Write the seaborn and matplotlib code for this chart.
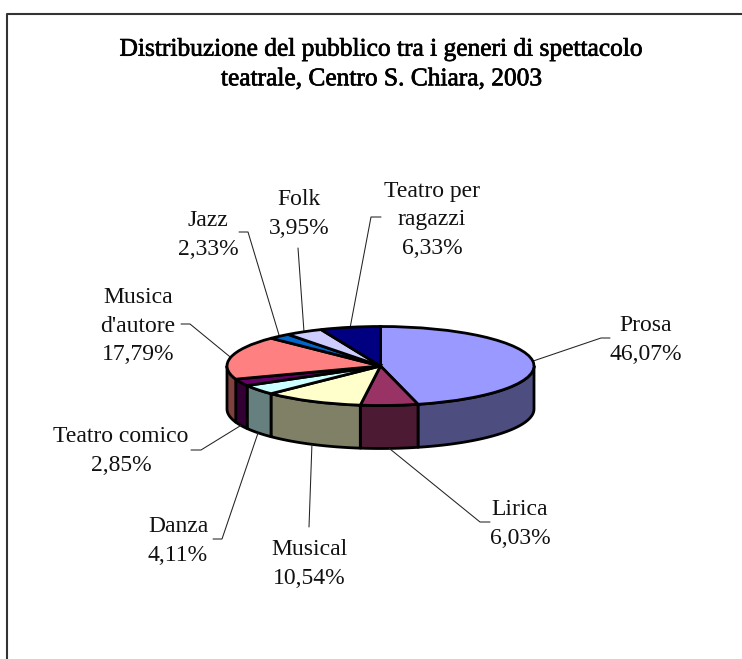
import numpy as np
import matplotlib
matplotlib.use('Agg')
import matplotlib.pyplot as plt
import matplotlib.patheffects as pe
import seaborn as sns

generi = ['Prosa', 'Lirica', 'Musical', 'Danza', 'Teatro comico',
          "Musica\nd'autore", 'Jazz', 'Folk', 'Teatro per\nragazzi']
quote = [46.07, 6.03, 10.54, 4.11, 2.85, 17.79, 2.33, 3.95, 6.33]
colori = ['#9999FF', '#993366', '#FFFFCC', '#CCFFFF', '#660066',
          '#FF8080', '#0066CC', '#CCCCFF', '#000080']
titolo = 'Distribuzione del pubblico tra i generi di spettacolo\nteatrale, Centro S. Chiara, 2003'

W, H = 742, 659
# pie geometry in pixels
CX, CY, RX, RY, DEPTH = 380.5, 366, 153.5, 39.5, 43

# label centre and leader elbows, in pixels
label_pos = [(646, 340), (520, 524), (309, 564), (178, 541), (121, 451),
             (138, 326), (208, 235), (299, 214), (432, 220)]
elbows = [[(601, 338), (610, 338)], [(480, 522), (490, 522)], [(309, 527)],
          [(222, 539), (213, 539)], [(201, 450), (191, 450)],
          [(190, 324), (181, 324)], [(248, 232), (239, 232)], [(298, 248)],
          [(371, 217), (381, 217)]]

sns.set_theme(style='white')
plt.rcParams['font.family'] = ['Liberation Serif', 'DejaVu Serif']
palette = sns.color_palette(colori)

fig = plt.figure(figsize=(W / 100, H / 100), dpi=100)
ax = fig.add_axes([0, 0, 1, 1])
ax.set_xlim(0, W)
ax.set_ylim(H, 0)
ax.set_axis_off()

# outer frame, open on the right and bottom
ax.plot([6.5, 6.5, W], [H, 13.5, 13.5], color='#333333', lw=1.5, solid_capstyle='butt')

# side walls of the pie
bounds = np.cumsum([0] + quote) / 100 * 360
for i, col in enumerate(palette):
    a0, a1 = max(bounds[i], 90), min(bounds[i + 1], 270)
    if a1 <= a0:
        continue
    phi = np.radians(np.linspace(a0, a1, 60))
    x = CX + RX * np.sin(phi)
    y = CY - RY * np.cos(phi)
    ax.fill(np.r_[x, x[::-1]], np.r_[y, y[::-1] + DEPTH],
            facecolor=tuple(c * 0.5 for c in col), edgecolor='black', lw=2.0, joinstyle='round')

# leaders start on the rim at each slice's mid angle
mids = (bounds[:-1] + bounds[1:]) / 2
for m, elbow in zip(mids, elbows):
    r = np.radians(m)
    sx = CX + RX * np.sin(r)
    sy = CY - RY * np.cos(r)
    if 90 < m < 270:
        sy += DEPTH
    pts = [(sx, sy)] + elbow
    ax.plot([p[0] for p in pts], [p[1] for p in pts], color='#222222', lw=0.75)

for g, q, (lx, ly) in zip(generi, quote, label_pos):
    testo = g + '\n' + f'{q:.2f}'.replace('.', ',') + '%'
    ax.text(lx, ly, testo, ha='center', va='center', fontsize=17, color='#111111', linespacing=1.46)

ax.text(381, 64.5, titolo, ha='center', va='center', fontsize=18.3, color='black', linespacing=1.45,
        path_effects=[pe.withStroke(linewidth=0.5, foreground='black')])

# top face on its own squashed axes
ax_top = fig.add_axes([(CX - RX) / W, 1 - (CY + RY) / H, 2 * RX / W, 2 * RY / H])
ax_top.pie(quote, colors=palette, startangle=90, counterclock=False, radius=1,
           wedgeprops={'edgecolor': 'black', 'linewidth': 2.0, 'clip_on': False})
ax_top.set_aspect('auto')
ax_top.set_xlim(-1, 1)
ax_top.set_ylim(-1, 1)
ax_top.set_axis_off()
ax_top.patch.set_alpha(0)

fig.savefig('out.png', dpi=100)
